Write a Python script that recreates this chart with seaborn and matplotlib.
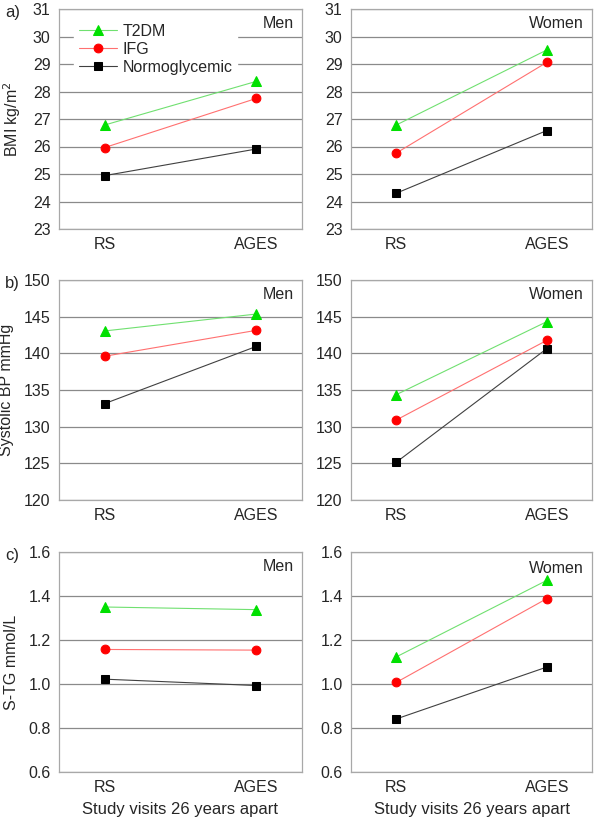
import numpy as np
import pandas as pd
import matplotlib
matplotlib.use("Agg")
import matplotlib.pyplot as plt
import seaborn as sns

visits = ["RS", "AGES"]
groups = ["T2DM", "IFG", "Normoglycemic"]

# values, order: RS, AGES
bmi_men = {"T2DM": [26.78, 28.37], "IFG": [25.96, 27.75], "Normoglycemic": [24.94, 25.91]}
bmi_women = {"T2DM": [26.78, 29.51], "IFG": [25.76, 29.06], "Normoglycemic": [24.30, 26.58]}
sbp_men = {"T2DM": [143.05, 145.36], "IFG": [139.6, 143.14], "Normoglycemic": [133.14, 140.95]}
sbp_women = {"T2DM": [134.36, 144.32], "IFG": [130.9, 141.77], "Normoglycemic": [125.14, 140.64]}
tg_men = {"T2DM": [1.35, 1.338], "IFG": [1.157, 1.154], "Normoglycemic": [1.022, 0.993]}
tg_women = {"T2DM": [1.123, 1.471], "IFG": [1.007, 1.388], "Normoglycemic": [0.841, 1.077]}

panels = [
    ("a)", "BMI kg/m$^2$", (23, 31), np.arange(23, 32, 1), "{:.0f}", bmi_men, bmi_women),
    ("b)", "Systolic BP mmHg", (120, 150), np.arange(120, 151, 5), "{:.0f}", sbp_men, sbp_women),
    ("c)", "S-TG mmol/L", (0.6, 1.6), np.arange(0.6, 1.61, 0.2), "{:.1f}", tg_men, tg_women),
]

marker_color = {"T2DM": "#00e000", "IFG": "#ff0000", "Normoglycemic": "#000000"}
line_color = {"T2DM": "#70e070", "IFG": "#ff7070", "Normoglycemic": "#404040"}
marker_shape = {"T2DM": "^", "IFG": "o", "Normoglycemic": "s"}
marker_size = {"T2DM": 7, "IFG": 6.3, "Normoglycemic": 5.2}

sns.set_style("white")
plt.rcParams["font.family"] = ["Liberation Sans", "DejaVu Sans"]
plt.rcParams["font.size"] = 11

fig = plt.figure(figsize=(5.95, 8.25), dpi=100)

lefts = [59 / 595, 351 / 595]
widths = [243 / 595, 241 / 595]
bottoms = [1 - 229 / 825, 1 - 500 / 825, 1 - 772 / 825]
height = 220 / 825
fs = 11.5

for row, (tag, ylabel, ylim, yticks, fmt, men, women) in enumerate(panels):
    for col, (sex, data) in enumerate([("Men", men), ("Women", women)]):
        ax = fig.add_axes([lefts[col], bottoms[row], widths[col], height])
        df = pd.DataFrame(
            [(g, i, data[g][i]) for g in groups for i in range(len(visits))],
            columns=["group", "visit", "value"],
        )
        # draw back to front so the green series sits on top
        for g in groups[::-1]:
            sub = df[df["group"] == g]
            sns.lineplot(data=sub, x="visit", y="value", ax=ax, color=line_color[g],
                         linewidth=0.8, marker=marker_shape[g], markersize=marker_size[g],
                         markerfacecolor=marker_color[g], markeredgecolor=marker_color[g],
                         label=g, legend=False, zorder=3)
        ax.set_xlim(-0.3, 1.3)
        ax.set_ylim(*ylim)
        ax.set_yticks(yticks)
        ax.set_yticklabels([fmt.format(v) for v in yticks], fontsize=fs)
        ax.set_xticks(range(len(visits)))
        ax.set_xticklabels(visits, fontsize=fs)
        ax.tick_params(length=0, pad=6)
        ax.yaxis.grid(True, color="#8a8a8a", linewidth=0.9)
        ax.set_axisbelow(True)
        for s in ax.spines.values():
            s.set_color("#a8a8a8")
            s.set_linewidth(0.9)
        ax.set_ylabel(ylabel if col == 0 else "", fontsize=fs, labelpad=7)
        if row == 2:
            ax.set_xlabel("Study visits 26 years apart", fontsize=12, labelpad=5)
        else:
            ax.set_xlabel("")
        ytxt = 0.935 if not (row == 2 and col == 1) else 0.925
        ax.text(0.965, ytxt, sex, transform=ax.transAxes, ha="right", va="center",
                fontsize=fs, zorder=5)
        if col == 0:
            fig.text(0.008, bottoms[row] + height - 0.004, tag, ha="left", va="center",
                     fontsize=12)
        if row == 0 and col == 0:
            handles, labels = ax.get_legend_handles_labels()
            order = [labels.index(g) for g in groups]
            leg = ax.legend([handles[i] for i in order], [labels[i] for i in order],
                            loc="upper left", bbox_to_anchor=(0.05, 0.97), frameon=True,
                            fontsize=fs, handlelength=2.4, handletextpad=0.3,
                            labelspacing=0.2, borderpad=0.3, borderaxespad=0.2)
            leg.get_frame().set_facecolor("white")
            leg.get_frame().set_edgecolor("white")
            leg.get_frame().set_alpha(1)

fig.savefig("out.png", dpi=100)
